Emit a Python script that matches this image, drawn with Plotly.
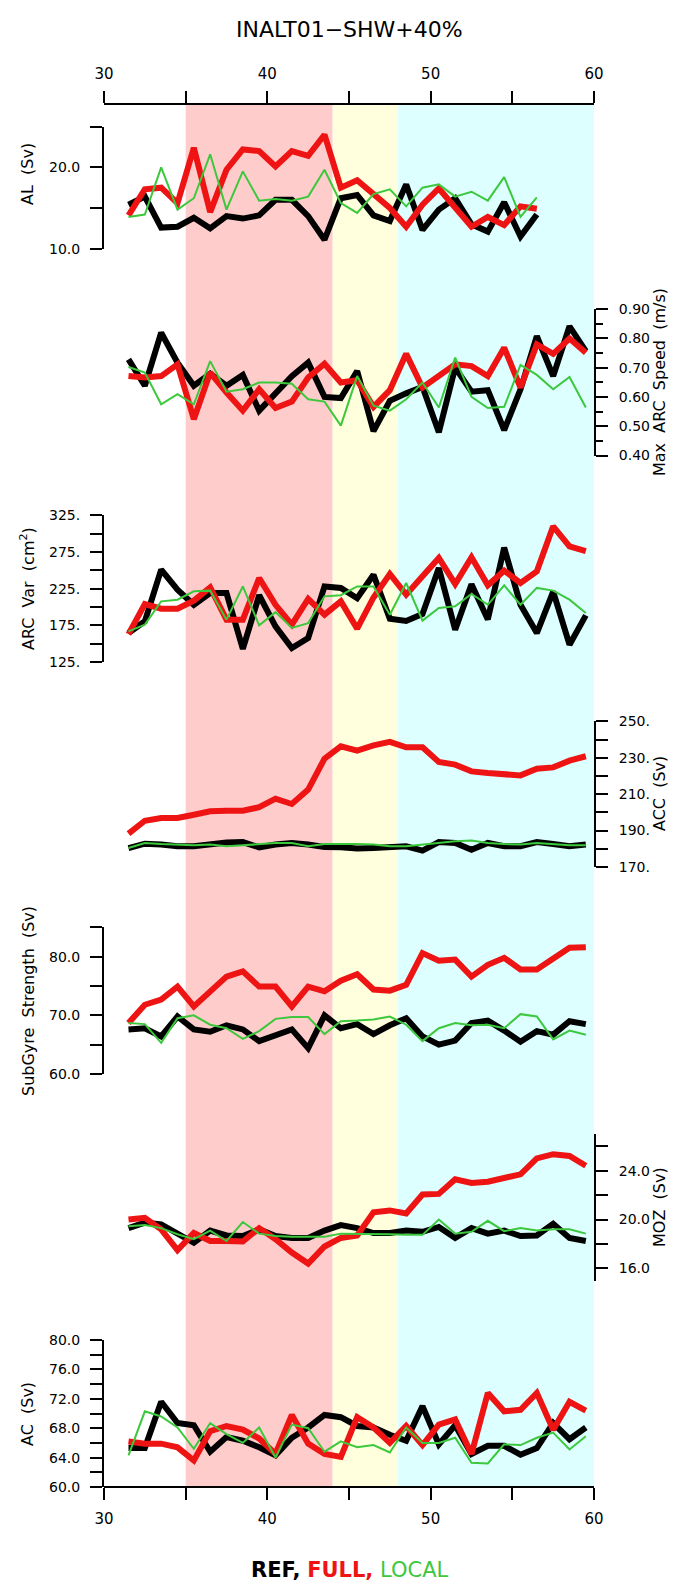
import plotly.graph_objects as go

# ---------------- data ----------------
years = [31.5, 32.5, 33.5, 34.5, 35.5, 36.5, 37.5, 38.5, 39.5, 40.5,
         41.5, 42.5, 43.5, 44.5, 45.5, 46.5, 47.5, 48.5, 49.5, 50.5,
         51.5, 52.5, 53.5, 54.5, 55.5, 56.5, 57.5, 58.5, 59.5]
years_al = years[:26]

al_ref = [15.4, 16.4, 12.6, 12.7, 13.8, 12.5, 14.0, 13.7, 14.1, 16.0, 16.0, 14.0, 11.1,
          16.2, 16.6, 14.1, 13.4, 17.9, 12.3, 14.8, 16.2, 13.0, 12.1, 15.7, 11.5, 14.2]
al_full = [14.1, 17.3, 17.5, 15.6, 22.4, 14.5, 19.7, 22.2, 22.0, 20.1, 22.0, 21.4, 24.0,
           17.5, 18.4, 16.8, 15.0, 12.7, 15.4, 17.4, 15.0, 12.7, 13.9, 12.9, 15.2, 14.9]
al_local = [13.9, 14.2, 20.0, 14.8, 16.2, 21.6, 14.8, 19.5, 15.9, 16.1, 15.9, 16.4, 19.7,
            15.6, 14.4, 16.7, 17.3, 15.2, 17.5, 17.9, 16.4, 17.0, 15.9, 18.8, 13.9, 16.3]

arc_ref = [0.728, 0.638, 0.819, 0.717, 0.638, 0.679, 0.638, 0.675, 0.553, 0.609, 0.671, 0.717,
           0.600, 0.596, 0.688, 0.483, 0.587, 0.612, 0.634, 0.479, 0.700, 0.618, 0.623, 0.487,
           0.626, 0.807, 0.671, 0.841, 0.756]
arc_full = [0.671, 0.666, 0.671, 0.711, 0.524, 0.683, 0.615, 0.553, 0.626, 0.562, 0.584, 0.666,
            0.713, 0.649, 0.657, 0.566, 0.623, 0.747, 0.632, 0.671, 0.711, 0.705, 0.671, 0.768,
            0.632, 0.779, 0.747, 0.799, 0.751]
arc_local = [0.702, 0.683, 0.575, 0.609, 0.575, 0.722, 0.618, 0.626, 0.649, 0.649, 0.645, 0.592,
             0.584, 0.502, 0.671, 0.570, 0.553, 0.592, 0.649, 0.564, 0.734, 0.600, 0.562, 0.566,
             0.709, 0.675, 0.626, 0.668, 0.564]

var_ref = [164.5, 180.5, 251, 223.6, 203, 219, 219, 143, 216, 173.6, 144, 157.7, 228, 226,
           212, 244, 184, 181, 190.5, 253, 169, 231, 183, 281, 203, 164.5, 221, 148.6, 188.6]
var_full = [163, 204, 197.7, 197.7, 208.6, 226.8, 182.7, 182.7, 239.5, 203, 176, 211, 189.5,
            207.7, 170.5, 213, 245, 216.8, 241.8, 266.8, 231.4, 267.7, 229.5, 249.5, 232.7,
            248.6, 310, 282.7, 276]
var_local = [166.8, 176, 207.7, 210, 221.4, 222.3, 182.7, 228, 175, 193, 171.4, 178, 214.5,
             216, 228, 228, 189.5, 232.7, 181.4, 198.6, 201, 217.7, 203, 229.5, 203, 226,
             222.3, 210, 191.8]

acc_ref = [180.4, 182.8, 182.3, 181.4, 181.4, 182.6, 183.5, 183.7, 180.8, 182.3, 183.2, 182.3,
           181.0, 180.8, 180.1, 180.4, 181.0, 181.4, 179.0, 183.7, 183.2, 179.5, 183.2, 181.4,
           181.4, 183.7, 182.6, 181.4, 182.3]
acc_full = [188.3, 195.4, 196.9, 196.9, 198.7, 200.6, 200.9, 200.9, 202.8, 207.5, 204.6, 212.5,
            229.5, 236.3, 233.9, 236.8, 238.7, 235.7, 235.7, 227.7, 226.2, 222.5, 221.6, 220.7,
            220.3, 224.0, 224.7, 228.4, 230.8]
acc_local = [180.4, 183.2, 182.6, 182.3, 181.9, 182.3, 181.4, 181.9, 182.6, 183.2, 183.2, 181.4,
             182.6, 182.8, 182.6, 182.3, 181.4, 181.4, 182.3, 183.2, 184.1, 184.5, 183.2, 182.6,
             182.3, 183.2, 182.6, 181.9, 181.9]

sg_ref = [67.6, 67.8, 66.4, 69.8, 67.6, 67.2, 68.3, 67.6, 65.6, 66.7, 67.6, 64.4, 70.0, 67.8,
          68.5, 66.8, 68.3, 69.5, 66.4, 65.0, 65.7, 68.7, 69.1, 67.4, 65.5, 67.3, 66.7, 69.0, 68.5]
sg_full = [68.7, 71.8, 72.7, 74.9, 71.5, 74.1, 76.6, 77.5, 74.9, 74.9, 71.5, 74.9, 74.1, 75.9,
           77.0, 74.4, 74.2, 75.2, 80.6, 79.3, 79.5, 76.6, 78.6, 79.8, 77.8, 77.8, 79.5, 81.5, 81.6]
sg_local = [68.7, 68.5, 65.3, 69.5, 70.0, 68.4, 67.8, 66.0, 67.3, 69.4, 69.7, 69.7, 66.8, 69.0,
            69.1, 69.3, 69.8, 68.4, 65.6, 67.8, 68.7, 68.3, 68.4, 67.8, 70.2, 69.8, 65.9, 67.4, 66.7]

moz_ref = [19.3, 19.75, 19.6, 18.9, 18.1, 19.1, 18.7, 18.65, 19.2, 18.65, 18.5, 18.5, 19.1,
           19.55, 19.3, 18.9, 18.9, 19.1, 19.0, 19.4, 18.5, 19.3, 18.85, 19.1, 18.65, 18.7,
           19.65, 18.5, 18.25]
moz_full = [20.0, 20.15, 19.2, 17.5, 18.9, 18.25, 18.25, 18.2, 19.3, 18.4, 17.3, 16.4, 17.8,
            18.5, 18.7, 20.6, 20.75, 20.5, 22.05, 22.1, 23.3, 23.0, 23.1, 23.45, 23.7, 25.0,
            25.35, 25.2, 24.4]
moz_local = [19.45, 19.55, 19.3, 18.8, 18.4, 19.1, 18.25, 19.8, 18.85, 18.65, 18.6, 18.6, 18.6,
             18.85, 18.85, 18.8, 18.8, 18.75, 18.75, 20.0, 18.85, 19.0, 19.9, 19.05, 19.3, 19.1,
             19.2, 19.2, 18.85]

ac_ref = [65.3, 65.3, 71.6, 68.7, 68.4, 64.8, 66.8, 66.3, 65.4, 64.3, 66.7, 68.1, 69.8, 69.5,
          68.3, 68.1, 67.1, 66.3, 71.0, 65.8, 68.4, 64.5, 65.6, 65.6, 64.4, 65.3, 68.7, 66.5, 68.1]
ac_full = [66.2, 65.9, 65.9, 65.4, 63.6, 67.6, 68.3, 67.8, 66.6, 64.5, 69.8, 65.9, 64.5, 64.1,
           69.5, 68.1, 66.0, 68.3, 65.7, 68.5, 69.2, 64.5, 72.8, 70.3, 70.5, 72.8, 67.8, 71.6, 70.4]
ac_local = [64.3, 70.3, 69.6, 68.1, 65.2, 68.7, 67.2, 66.0, 68.1, 64.0, 68.5, 68.0, 64.8, 66.2,
            65.4, 65.7, 64.7, 68.1, 66.0, 66.0, 66.7, 63.3, 63.2, 65.8, 65.7, 66.7, 67.4, 65.1, 66.9]

# shaded periods (model years)
periods = [(35, 44, "#ffcccc"), (44, 48, "#ffffdd"), (48, 60, "#ddffff")]

x_major = [30, 40, 50, 60]
x_major_text = ["30", "40", "50", "60"]
x_minor = [35, 45, 55]

# ---------------- layout geometry (pixels) ----------------
W, H = 678, 1585
PL, PR = 96, 586          # plot left / right (px)
PT, PB = 96, 1479         # plot top / bottom (px)
PH = PB - PT
PW = PR - PL


def fy(p):
    return (PB - p) / PH


def fx(p):
    return (p - PL) / PW


FONT = "DejaVu Sans"
C_REF, C_FULL, C_LOCAL = "#000000", "#ee1414", "#3cc83c"

panels = [
    dict(series=(al_ref, al_full, al_local), xs=years_al, rng=[10, 25], px=(240.7, 118.6),
         side="left", tv=[10, 20], tt=["10.0", "20.0"], mv=[15, 25], ml=12,
         title="AL  (Sv)", tpx=19, tpy=166),
    dict(series=(arc_ref, arc_full, arc_local), xs=years, rng=[0.4, 0.9], px=(447.5, 301),
         side="right", tv=[0.4, 0.5, 0.6, 0.7, 0.8, 0.9],
         tt=["0.40", "0.50", "0.60", "0.70", "0.80", "0.90"],
         mv=[0.45, 0.55, 0.65, 0.75, 0.85], ml=7,
         title="Max  ARC  Speed  (m/s)", tpx=652, tpy=374),
    dict(series=(var_ref, var_full, var_local), xs=years, rng=[125, 325], px=(654, 507.3),
         side="left", tv=[125, 175, 225, 275, 325], tt=["125.", "175.", "225.", "275.", "325."],
         mv=[150, 200, 250, 300], ml=12,
         title="ARC  Var  (cm<sup>2</sup>)", tpx=19, tpy=581),
    dict(series=(acc_ref, acc_full, acc_local), xs=years, rng=[170, 250], px=(859, 713.3),
         side="right", tv=[170, 190, 210, 230, 250], tt=["170.", "190.", "210.", "230.", "250."],
         mv=[180, 200, 220, 240], ml=12,
         title="ACC  (Sv)", tpx=651, tpy=786),
    dict(series=(sg_ref, sg_full, sg_local), xs=years, rng=[60, 85], px=(1066, 919.3),
         side="left", tv=[60, 70, 80], tt=["60.0", "70.0", "80.0"], mv=[65, 75, 85], ml=12,
         title="SubGyre  Strength  (Sv)", tpx=20, tpy=993),
    dict(series=(moz_ref, moz_full, moz_local), xs=years, rng=[15, 27], px=(1272.7, 1126),
         side="right", tv=[16, 20, 24], tt=["16.0", "20.0", "24.0"], mv=[18, 22, 26], ml=12,
         title="MOZ  (Sv)", tpx=651, tpy=1199),
    dict(series=(ac_ref, ac_full, ac_local), xs=years, rng=[60, 80], px=(1479, 1332),
         side="left", tv=[60, 64, 68, 72, 76, 80],
         tt=["60.0", "64.0", "68.0", "72.0", "76.0", "80.0"],
         mv=[62, 66, 70, 74, 78], ml=12,
         title="AC  (Sv)", tpx=19, tpy=1406),
]

fig = go.Figure()
layout = dict(
    width=W, height=H,
    margin=dict(l=PL, r=W - PR, t=PT, b=H - PB, pad=0),
    paper_bgcolor="white", plot_bgcolor="white",
    showlegend=False,
    font=dict(family=FONT, size=15, color="black"),
)

annotations = []
for i, p in enumerate(panels):
    n = i + 1
    yname = "y" if n == 1 else f"y{n}"
    lname = "yaxis" if n == 1 else f"yaxis{n}"
    ref, full, local = p["series"]
    for vals, col, w in ((ref, C_REF, 6), (full, C_FULL, 6), (local, C_LOCAL, 2)):
        fig.add_trace(go.Scatter(x=p["xs"], y=vals, mode="lines", xaxis="x", yaxis=yname,
                                 line=dict(color=col, width=w), hoverinfo="skip"))
    layout[lname] = dict(
        domain=[fy(p["px"][0]), fy(p["px"][1])], range=p["rng"], side=p["side"], anchor="x",
        showline=True, linecolor="black", linewidth=2, showgrid=False, zeroline=False,
        ticks="outside", ticklen=12, tickwidth=2, tickcolor="black",
        tickmode="array", tickvals=p["tv"], ticktext=p["tt"],
        ticklabelstandoff=8 if p["side"] == "right" else 7,
        minor=dict(tickmode="array", tickvals=p["mv"], ticks="outside", ticklen=p["ml"],
                   tickwidth=2, tickcolor="black", showgrid=False),
        tickfont=dict(family=FONT, size=14, color="black"),
    )
    annotations.append(dict(text=p["title"], xref="paper", yref="paper",
                            x=fx(p["tpx"]), y=fy(p["tpy"]), xanchor="center", yanchor="middle",
                            textangle=-90, showarrow=False,
                            font=dict(family=FONT, size=16, color="black")))

xcommon = dict(range=[30, 60], showline=True, linecolor="black", linewidth=2, showgrid=False,
               zeroline=False, ticks="outside", ticklen=12, tickwidth=2, tickcolor="black",
               tickmode="array", tickvals=x_major, ticktext=x_major_text, ticklabelstandoff=6,
               minor=dict(tickmode="array", tickvals=x_minor, ticks="outside", ticklen=12,
                          tickwidth=2, tickcolor="black", showgrid=False),
               tickfont=dict(family=FONT, size=15, color="black"))
layout["xaxis"] = dict(xcommon, anchor="free", position=0, side="bottom", domain=[0, 1])
layout["xaxis2"] = dict(xcommon, anchor="free", position=1, side="top", overlaying="x",
                        domain=[0, 1])

# empty trace so the top axis is drawn
fig.add_trace(go.Scatter(x=[30, 60], y=[None, None], xaxis="x2", yaxis="y", mode="lines",
                         showlegend=False, hoverinfo="skip"))

shapes = []
for x0, x1, col in periods:
    shapes.append(dict(type="rect", xref="x", yref="paper", x0=x0, x1=x1, y0=0, y1=1,
                       fillcolor=col, line=dict(width=0), layer="below"))
layout["shapes"] = shapes

annotations.append(dict(text="INALT01\u2212SHW+40%", xref="paper", yref="paper",
                        x=fx(341), y=fy(22), xanchor="center", yanchor="middle",
                        showarrow=False, font=dict(family=FONT, size=22, color="black")))
annotations.append(dict(
    text="<b>REF,</b> <span style='color:#ee1414'><b>FULL,</b></span> "
         "<span style='color:#3cc83c'>LOCAL</span>",
    xref="paper", yref="paper", x=fx(341), y=fy(1562), xanchor="center", yanchor="middle",
    showarrow=False, font=dict(family=FONT, size=21, color="black")))
layout["annotations"] = annotations

fig.update_layout(**layout)
fig.write_html("out.html")
